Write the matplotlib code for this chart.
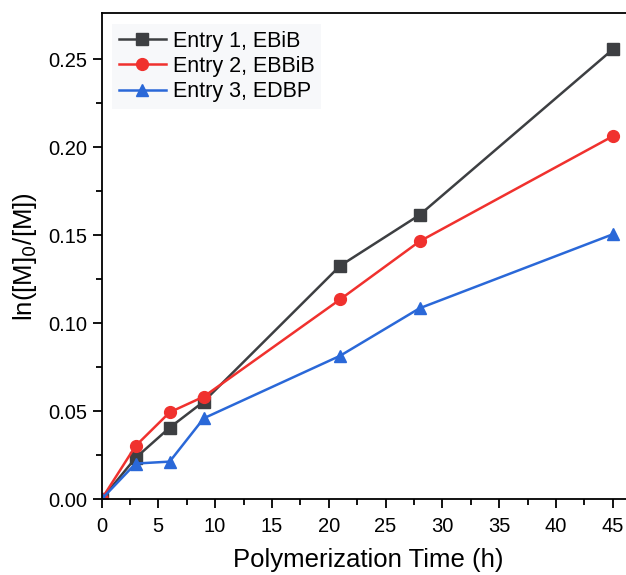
import numpy as np
import matplotlib.pyplot as plt

plt.rcParams['font.family'] = ['Liberation Sans', 'DejaVu Sans']

# reaction time (h)
time_h = [0, 3, 6, 9, 21, 28, 45]
# ln([M]0/[M]) for each entry
entry1 = [0.0, 0.0235, 0.0407, 0.0555, 0.1326, 0.1615, 0.2555]
entry2 = [0.0, 0.0303, 0.0494, 0.0583, 0.1135, 0.1465, 0.2062]
entry3 = [0.0, 0.0203, 0.0214, 0.0460, 0.0815, 0.1085, 0.1505]
labels = ['Entry 1, EBiB', 'Entry 2, EBBiB', 'Entry 3, EDBP']

fig = plt.figure(figsize=(6.26, 5.75), dpi=100)
# axes box runs past the right edge of the image (like the original crop)
ax = fig.add_axes([101.5 / 626, 75.7 / 575, 534 / 626, 486 / 575])

ax.plot(time_h, entry1, '-s', color='#3d3f42', lw=1.8, ms=8, label=labels[0])
ax.plot(time_h, entry2, '-o', color='#f0312e', lw=1.8, ms=8.5, label=labels[1])
ax.plot(time_h, entry3, '-^', color='#2a68d8', lw=1.8, ms=8.5, label=labels[2])

ax.set_xlim(0, 47)
ax.set_ylim(0, 0.276)
ax.set_xticks(np.arange(0, 46, 5))
ax.set_xticks(np.arange(2.5, 46, 5), minor=True)
ax.set_yticks(np.arange(0, 0.26, 0.05))
ax.set_yticks(np.arange(0.025, 0.27, 0.05), minor=True)
ax.yaxis.set_major_formatter(plt.FormatStrFormatter('%.2f'))

ax.tick_params(which='both', direction='out', width=1.3, labelsize=14.5,
               top=False, right=False, colors='black')
ax.tick_params(axis='x', pad=6)
ax.tick_params(which='major', length=6.5)
ax.tick_params(which='minor', length=4)
for s in ax.spines.values():
    s.set_linewidth(1.3)

ax.set_xlabel('Polymerization Time (h)', fontsize=18.5, labelpad=9)
ax.set_ylabel('ln([M]$_0$/[M])', fontsize=18.5, labelpad=7)

leg = ax.legend(loc='upper left', fontsize=15.5, frameon=True, fancybox=False,
                borderaxespad=0.5, borderpad=0.3, handlelength=2.2,
                labelspacing=0.2, handletextpad=0.3)
leg.get_frame().set_facecolor('#f7f8fa')
leg.get_frame().set_edgecolor('none')
leg.get_frame().set_alpha(1)

fig.savefig('out.png', dpi=100)
